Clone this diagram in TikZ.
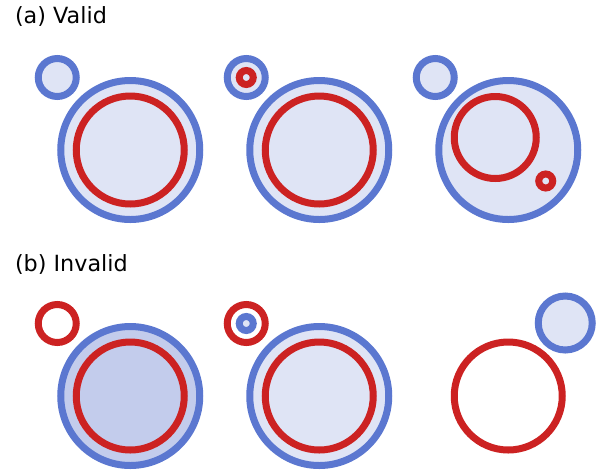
\documentclass[tikz,border=0pt]{standalone}
\usepackage{fontspec}
\setmainfont{DejaVu Sans}
\usepackage{xcolor}
\usepackage{tikz}
\usetikzlibrary{matrix}
\definecolor{kreisblau}{HTML}{5B77D0}
\definecolor{kreisrot}{HTML}{CC2222}
\definecolor{fuellhell}{HTML}{DFE4F5}
\definecolor{fuelldunkel}{HTML}{C3CCEC}
\tikzset{
  Ring/.style={circle,draw,line width=7pt,inner sep=0pt,minimum size=#1}, % Grundring
  BRing/.style={Ring=#1,draw=kreisblau,fill=fuellhell},% blauer Ring, gefuellt
  RRing/.style={Ring=#1,draw=kreisrot}, % roter Ring, leer
  Titel/.style={anchor=base west,font=\fontsize{22.3}{26}\selectfont}
}

\begin{document}
\begin{tikzpicture}[x=1pt,y=-1pt]
\useasboundingbox (0,0) rectangle (605,475);
\matrix (S) at (319.25,273) [
  matrix of nodes, nodes in empty cells,
  inner sep=0pt,
  column sep=189pt, row sep=246pt,
  nodes={minimum size=0pt,inner sep=0pt,text height=0pt,text depth=0pt}
  ]
{
  && \\
  && \\
};

%Ueberschriften
\node[Titel] (TitelA) at (11.5,23.5) {(a) Valid};
\node[Titel] (TitelB) at (11.5,271.5) {(b) Invalid};

%Gueltig
\node[BRing=139pt] (A1) at (S-1-1) {};
\node[RRing=108pt] (A1r) at (S-1-1) {};
\node[BRing=38pt] (A1k) at ([shift={(-73,-72.5)}]S-1-1) {};

\node[BRing=139pt] (A2) at (S-1-2) {};
\node[RRing=108pt] (A2r) at (S-1-2) {};
\node[BRing=38pt] (A2k) at ([shift={(-73,-72.5)}]S-1-2) {};
\node[RRing=14pt] (A2kr) at (A2k) {};

\node[BRing=139pt] (A3) at (S-1-3) {};
\node[RRing=82pt] (A3r) at ([shift={(-13,-12.5)}]S-1-3) {};
\node[RRing=14pt] (A3kr) at ([shift={(37.5,31)}]S-1-3) {};
\node[BRing=38pt] (A3k) at ([shift={(-73,-72.5)}]S-1-3) {};

%Ungueltig
\node[BRing=139pt,fill=fuelldunkel] (B1) at (S-2-1) {};
\node[RRing=108pt] (B1r) at (S-2-1) {};
\node[RRing=38pt] (B1k) at ([shift={(-73,-72.5)}]S-2-1) {};

\node[BRing=139pt] (B2) at (S-2-2) {};
\node[RRing=108pt] (B2r) at (S-2-2) {};
\node[RRing=38pt] (B2k) at ([shift={(-73,-72.5)}]S-2-2) {};
\node[BRing=14pt] (B2kb) at (B2k) {};

\node[RRing=108pt] (B3r) at (S-2-3) {};
\node[BRing=54pt] (B3k) at ([shift={(57,-73)}]S-2-3) {};

\end{tikzpicture}
\end{document}
